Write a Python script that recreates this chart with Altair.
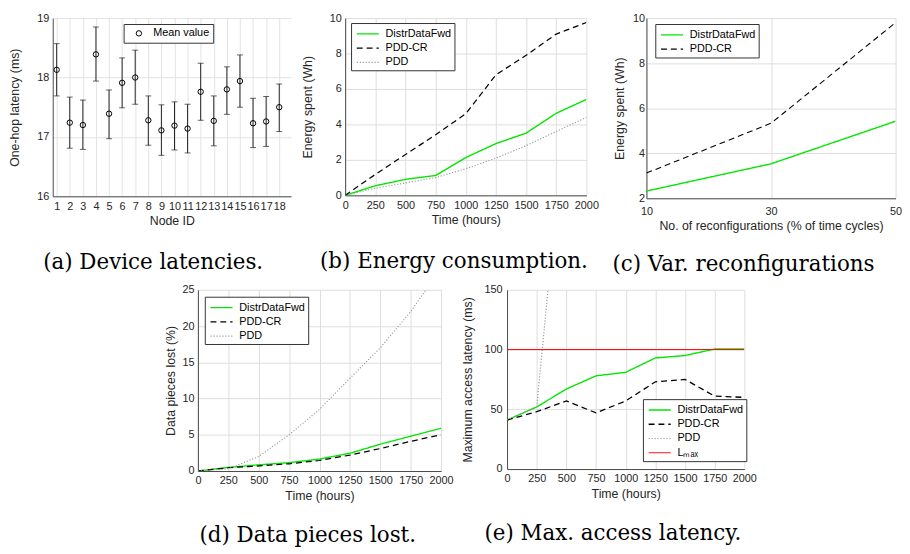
import altair as alt
import pandas as pd

# ---------------- data ----------------
nodes = list(range(1, 19))
mean_latency = [18.13, 17.24, 17.20, 18.39, 17.39, 17.91, 18.00, 17.28, 17.11,
                17.19, 17.14, 17.76, 17.27, 17.80, 17.94, 17.23, 17.26, 17.50]
latency_hi = [18.57, 17.67, 17.62, 18.85, 17.79, 18.33, 18.46, 17.69, 17.54,
              17.59, 17.55, 18.24, 17.69, 18.18, 18.38, 17.65, 17.68, 17.89]
latency_lo = [17.69, 16.81, 16.79, 17.94, 16.97, 17.49, 17.55, 16.86, 16.69,
              16.78, 16.73, 17.28, 16.85, 17.38, 17.50, 16.82, 16.84, 17.09]

hours = [0, 250, 500, 750, 1000, 1250, 1500, 1750, 2000]
energy_ddf = [0, 0.54, 0.90, 1.12, 2.13, 2.92, 3.51, 4.63, 5.41]
energy_pddcr = [0, 1.18, 2.30, 3.42, 4.60, 6.80, 7.90, 9.10, 9.75]
energy_pdd = [0, 0.40, 0.70, 1.00, 1.50, 2.10, 2.80, 3.60, 4.40]

reconf_pct = [10, 30, 50]
reconf_ddf = [2.32, 3.53, 5.42]
reconf_pddcr = [3.12, 5.33, 9.80]

lost_ddf = [0, 0.50, 0.85, 1.15, 1.65, 2.45, 3.70, 4.80, 5.90]
lost_pddcr = [0, 0.45, 0.70, 1.00, 1.45, 2.20, 3.10, 4.10, 5.00]
lost_pdd = [0, 0.30, 2.00, 5.00, 8.50, 12.80, 17.00, 22.00, 28.00]

maxlat_ddf = [41, 52, 67, 78, 81, 93, 95, 100.5, 100.5]
maxlat_pddcr = [41, 48, 57, 47, 57, 73, 75, 61, 60]
maxlat_pdd = [41, 52, 310]
lmax_hours = [0, 2000]
lmax_value = [100, 100]

x_hours_ticks = [0, 250, 500, 750, 1000, 1250, 1500, 1750, 2000]

# ---------------- styling ----------------
SANS = "Liberation Sans"
SERIF = "DejaVu Serif"
GREEN = "#00e600"
LMAX = "L\u2098\u2090\u2093"
SER3 = ["DistrDataFwd", "PDD-CR", "PDD"]
COL3 = [GREEN, "black", "#999999"]
DASH3 = [[1, 0], [6, 4], [1.2, 1.8]]
WID3 = [1.4, 1.1, 1.1]
INDEP = dict(color="independent", strokeDash="independent",
             strokeWidth="independent")


def long_df(xname, xs, series):
    rows = []
    for name, vals in series:
        for x, v in zip(xs, vals):
            rows.append({xname: x, "series": name, "value": v})
    return pd.DataFrame(rows)


def xaxis(values, title, lp=4):
    return alt.Axis(values=values, title=title, format="d", labelPadding=lp,
                    titlePadding=4, ticks=False, labelFlush=False,
                    labelOverlap=False)


def yaxis(values, title, tp, lp=4):
    return alt.Axis(values=values, title=title, format="d", labelPadding=lp,
                    titlePadding=tp, ticks=False, labelOverlap=False)


def line_legend(lx, ly):
    return alt.Legend(orient="none", legendX=lx, legendY=ly, title=None,
                      symbolType="M-1.6,0H1.6", symbolSize=196,
                      symbolStrokeWidth=1.4, symbolOffset=6,
                      labelFont=SANS, labelFontSize=11, labelColor="black",
                      strokeColor="#333333", fillColor="white", padding=3,
                      rowPadding=1.5, labelOffset=10)


def caption(text, dx, offset=25):
    return alt.TitleParams(text, orient="bottom", font=SERIF, fontSize=21.7,
                           fontWeight="normal", color="black", offset=offset,
                           baseline="top", anchor="middle", dx=dx)


def line_panel(df, xfield, xdom, xvals, xtitle, ydom, yvals, ytitle, ytp, ylp,
               domain, colors, dashes, widths, lx, ly, w, h, cap, xlp=4):
    leg = line_legend(lx, ly)
    return alt.Chart(df).mark_line(clip=True).encode(
        x=alt.X(f"{xfield}:Q", scale=alt.Scale(domain=xdom, nice=False),
                axis=xaxis(xvals, xtitle, xlp)),
        y=alt.Y("value:Q", scale=alt.Scale(domain=ydom, nice=False),
                axis=yaxis(yvals, ytitle, ytp, ylp)),
        color=alt.Color("series:N", scale=alt.Scale(domain=domain, range=colors),
                        legend=leg),
        strokeDash=alt.StrokeDash("series:N",
                                  scale=alt.Scale(domain=domain, range=dashes),
                                  legend=leg),
        strokeWidth=alt.StrokeWidth("series:N",
                                    scale=alt.Scale(domain=domain, range=widths),
                                    legend=None),
    ).properties(width=w, height=h, title=cap)


# ---------------- panel (a) ----------------
df_a = pd.DataFrame({"node": nodes, "mean": mean_latency, "hi": latency_hi,
                     "lo": latency_lo, "lbl": ["Mean value"] * len(nodes)})
xa = alt.X("node:Q", scale=alt.Scale(domain=[0.7, 18.9], nice=False),
           axis=alt.Axis(values=nodes, title="Node ID", labelPadding=4,
                         titlePadding=4, ticks=False, grid=True,
                         gridColor="#e3e3e3", labelFlush=False,
                         labelOverlap=False))
ya_axis = alt.Axis(values=[16, 17, 18, 19], title="One-hop latency (ms)",
                   format="d", labelPadding=4, titlePadding=16, ticks=False,
                   grid=True, gridColor="#e3e3e3", labelOverlap=False)
base_a = alt.Chart(df_a)
rules_a = base_a.mark_rule(color="#222222", strokeWidth=1).encode(
    x=xa, y=alt.Y("lo:Q", scale=alt.Scale(domain=[16, 19], nice=False), axis=ya_axis),
    y2="hi:Q")
cap_hi = base_a.mark_tick(orient="horizontal", color="#222222", thickness=1,
                          size=6).encode(x=xa, y="hi:Q")
cap_lo = base_a.mark_tick(orient="horizontal", color="#222222", thickness=1,
                          size=6).encode(x=xa, y="lo:Q")
pts_a = base_a.mark_point(filled=False, size=30, strokeWidth=1, opacity=1).encode(
    x=xa, y="mean:Q",
    color=alt.Color("lbl:N", scale=alt.Scale(domain=["Mean value"], range=["black"]),
                    legend=alt.Legend(orient="none", legendX=72, legendY=6,
                                      title=None, symbolType="circle",
                                      symbolSize=30, symbolStrokeWidth=1,
                                      symbolFillColor="white", symbolOffset=6,
                                      labelFont=SANS, labelFontSize=11,
                                      labelColor="black", strokeColor="#333333",
                                      fillColor="white", padding=4,
                                      labelOffset=9)))
panel_a = alt.layer(rules_a, cap_hi, cap_lo, pts_a).properties(
    width=242, height=181, title=caption("(a) Device latencies.", -19))

# ---------------- panel (b) ----------------
df_b = long_df("hours", hours, [("DistrDataFwd", energy_ddf),
                                ("PDD-CR", energy_pddcr), ("PDD", energy_pdd)])
panel_b = line_panel(df_b, "hours", [0, 2000], x_hours_ticks, "Time (hours)",
                     [0, 10], [0, 2, 4, 6, 8, 10], "Energy spent (Wh)", 15, 4,
                     SER3, COL3, DASH3, WID3, 6, 5, 245, 180,
                     caption("(b) Energy consumption.", -12))

# ---------------- panel (c) ----------------
df_c = long_df("pct", reconf_pct, [("DistrDataFwd", reconf_ddf),
                                   ("PDD-CR", reconf_pddcr)])
panel_c = line_panel(df_c, "pct", [10, 50], reconf_pct,
                     "No. of reconfigurations (% of time cycles)",
                     [2, 10], [2, 4, 6, 8, 10], "Energy spent (Wh)", 6, 2,
                     SER3[:2], COL3[:2], DASH3[:2], WID3[:2], 9, 6, 253, 183,
                     caption("(c) Var. reconfigurations", -28, 22), xlp=7)

# ---------------- panel (d) ----------------
df_d = long_df("hours", hours, [("DistrDataFwd", lost_ddf),
                                ("PDD-CR", lost_pddcr), ("PDD", lost_pdd)])
panel_d = line_panel(df_d, "hours", [0, 2000], x_hours_ticks, "Time (hours)",
                     [0, 25], [0, 5, 10, 15, 20, 25], "Data pieces lost (%)", 5, 4,
                     SER3, COL3, DASH3, WID3, 7, 7, 247, 184,
                     caption("(d) Data pieces lost.", -12, 24))

# ---------------- panel (e) ----------------
df_e = pd.concat([
    long_df("hours", hours, [("DistrDataFwd", maxlat_ddf),
                             ("PDD-CR", maxlat_pddcr), ("PDD", maxlat_pdd)]),
    long_df("hours", lmax_hours, [(LMAX, lmax_value)]),
], ignore_index=True)
panel_e = line_panel(df_e, "hours", [0, 2000], x_hours_ticks, "Time (hours)",
                     [0, 150], [0, 50, 100, 150], "Maximum access latency (ms)",
                     10, 5, SER3 + [LMAX], COL3 + ["#ff1010"],
                     DASH3 + [[1, 0]], WID3 + [2.2], 138, 111, 241, 182,
                     caption("(e) Max. access latency.", -13, 24))

row1a = alt.hconcat(panel_a, panel_b, spacing=10).resolve_scale(**INDEP)
row1 = alt.hconcat(row1a, panel_c, spacing=13).resolve_scale(**INDEP)
row2 = alt.hconcat(panel_d, panel_e, spacing=7).resolve_scale(**INDEP)

chart = alt.vconcat(row1, row2, spacing=8, center=True).resolve_scale(
    **INDEP
).properties(
    padding=0, background="white"
).configure_view(stroke=None).configure_axis(
    labelFont=SANS, labelFontSize=11, labelColor="#262626",
    titleFont=SANS, titleFontSize=12.5, titleFontWeight="normal",
    titleColor="#262626", domainColor="#4a4a4a", domainWidth=1
)

chart.save("out.html", embed_options={"renderer": "svg", "actions": False})
